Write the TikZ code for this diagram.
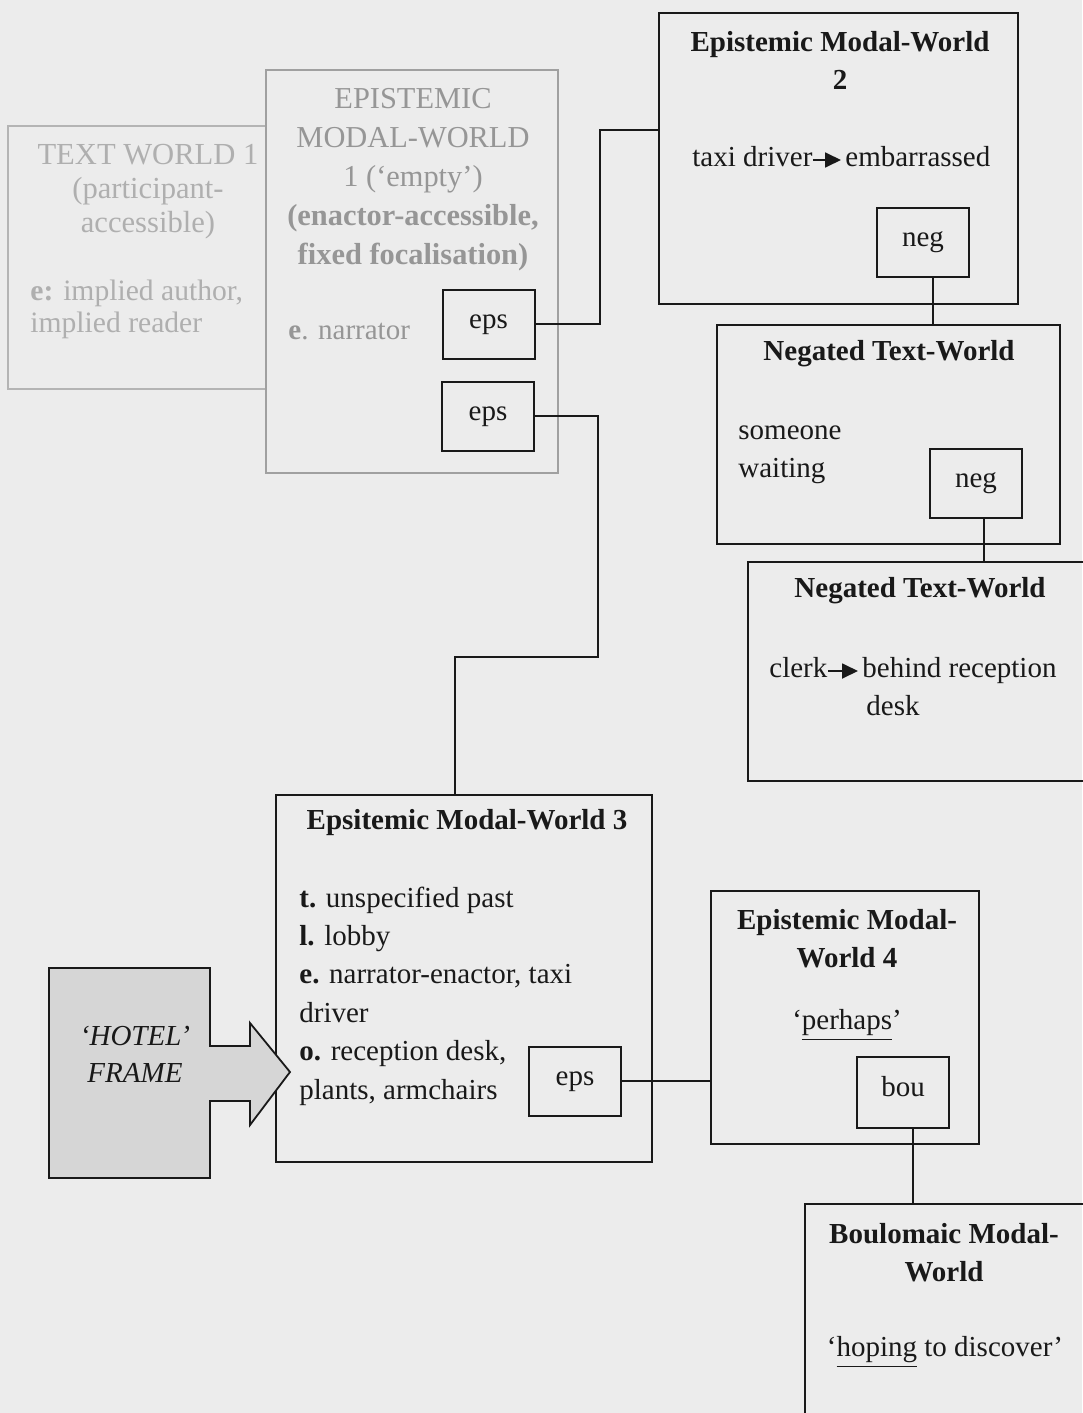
\documentclass[tikz,border=0pt]{standalone}
\usepackage{fontspec}
\setmainfont{Liberation Serif}
\usetikzlibrary{fit,arrows.meta}
\definecolor{paper}{RGB}{236,236,236}
\definecolor{fadeline}{RGB}{160,160,160}
\definecolor{fadetext}{RGB}{150,150,150}
\definecolor{faintline}{RGB}{180,180,180}
\definecolor{fainttext}{RGB}{175,175,175}
\definecolor{framefill}{RGB}{214,214,214}
\definecolor{ink}{RGB}{25,25,25}
\newcommand\mainsize{\fontsize{14.5}{19}\selectfont}

\begin{document}
\begin{tikzpicture}[x=0.5pt,y=-0.5pt,
  world/.style={draw=ink, line width=1pt, inner sep=0pt},
  ghost/.style={draw=fadeline, line width=0.7pt, inner sep=0pt},
  faint/.style={draw=faintline, line width=0.7pt, inner sep=0pt},
  tag/.style={draw=ink, line width=1pt, inner sep=0pt, font=\mainsize, text=ink,
    minimum width=46pt, minimum height=34.5pt, text height=7pt, text depth=3pt},
  txt/.style={inner sep=0pt, font=\mainsize, text=ink},
  title/.style={txt, font=\mainsize\bfseries, align=center},
  link/.style={draw=ink, line width=1pt},
  pointer/.style={draw=ink, line width=0.9pt, -{Triangle[length=8pt,width=7.5pt]}}
]
% page
\useasboundingbox (0,0) rectangle (1082,1413);
\fill[paper] (0,0) rectangle (1082,1413);

% world boxes
\node[faint, fit={(8,126) (266,389)}] (tw1) {};
\node[ghost, fit={(266,70) (558,473)}] (emw1) {};
\node[world, fit={(659,13) (1018,304)}] (emw2) {};
\node[world, fit={(717,325) (1060,544)}] (ntw1) {};
\node[world, fit={(748,562) (1110,781)}] (ntw2) {};
\node[world, fit={(276,795) (652,1162)}] (emw3) {};
\node[world, fit={(711,891) (979,1144)}] (emw4) {};
\node[world, fit={(805,1204) (1110,1440)}] (bmw) {};

% switch tags
\node[tag] (eps1) at (488.5,324) {eps};
\node[tag] (eps2) at (488,416) {eps};
\node[tag] (neg1) at (923,242.5) {neg};
\node[tag] (neg2) at (976,483.5) {neg};
\node[tag] (eps3) at (575,1081) {eps};
\node[tag, minimum height=35.5pt] (bou) at (903,1092.5) {bou};

% connectors
\coordinate (j1) at (600,130);
\draw[link] (eps1.east) -| (j1) -- (j1 -| emw2.west);
\coordinate (j2) at (598,657);
\coordinate (j3) at (455,657);
\draw[link] (eps2.east) -| (j2) -- (j3) -- (j3 |- emw3.north);
\coordinate (n1) at ([xshift=5pt]neg1.south);
\draw[link] (n1) -- (n1 |- ntw1.north);
\coordinate (n2) at ([xshift=4pt]neg2.south);
\draw[link] (n2) -- (n2 |- ntw2.north);
\coordinate (b1) at ([xshift=5pt]bou.south);
\draw[link] (b1) -- (b1 |- bmw.north);
\draw[link] (eps3.east) -- (eps3.east -| emw4.west);

% hotel frame with its block arrow
\draw[draw=ink, fill=framefill, line width=0.9pt]
  (49,968) -- (210,968) -- (210,1046) -- (250,1046) -- (250,1023)
  -- (290,1072) -- (250,1125) -- (250,1101) -- (210,1101)
  -- (210,1178) -- (49,1178) -- cycle;
\node[txt, align=center, font=\fontsize{14.5}{18.5}\selectfont\itshape] (hotel) at (135,1054) {‘HOTEL’\\FRAME};

% text world 1
\node[txt, text=fainttext, align=center, font=\fontsize{15.3}{17}\selectfont] (tw1title) at (148,192) {TEXT WORLD 1\\(participant-\\accessible)};
\node[txt, text=fainttext, align=left, anchor=west, font=\fontsize{14.8}{16}\selectfont] (tw1e) at (30,309) {\textbf{e:} implied author,\\implied reader};

% epistemic modal-world 1
\node[txt, text=fadetext, align=center, font=\fontsize{15.2}{19.5}\selectfont] (emw1title) at (413,180) {EPISTEMIC\\MODAL-WORLD\\1 (‘empty’)\\\textbf{(enactor-accessible,}\\\textbf{fixed focalisation)}};
\node[txt, text=fadetext, anchor=west] (emw1e) at (288,332) {\textbf{e}. narrator};

% epistemic modal-world 2
\node[title] (emw2title) at (840,60) {Epistemic Modal-World\\2};
\node[txt, anchor=base west] (taxi) at (692,166) {taxi driver};
\node[txt, anchor=base west] (emb) at (845,166) {embarrassed};
\draw[pointer] ([yshift=3pt]taxi.base east) -- ([xshift=-2pt,yshift=3pt]emb.base west);

% negated text-world 1
\node[title] (ntw1title) at (889,354) {Negated Text-World};
\node[txt, align=left, anchor=west] (someone) at (738,455) {someone\\waiting};

% negated text-world 2
\node[title] (ntw2title) at (920,591) {Negated Text-World};
\node[txt, anchor=base west] (clerk) at (769,677) {clerk};
\node[txt, anchor=base west] (behind) at (862,677) {behind reception};
\node[txt, anchor=base west] (desk) at (866,715) {desk};
\draw[pointer] ([yshift=3pt]clerk.base east) -- ([xshift=-2pt,yshift=3pt]behind.base west);

% epistemic modal-world 3
\node[title] (emw3title) at (467,823) {Epsitemic Modal-World 3};
\node[txt, align=left, anchor=west, font=\fontsize{14.5}{19.2}\selectfont] (emw3body) at (299,996)
  {\textbf{t.} unspecified past\\\textbf{l.} lobby\\\textbf{e.} narrator-enactor, taxi\\driver\\\textbf{o.} reception desk,\\plants, armchairs};

% epistemic modal-world 4
\node[title] (emw4title) at (847,939) {Epistemic Modal-\\World 4};
\node[txt] (perhaps) at (847,1025) {‘\underline{perhaps}’};

% boulomaic modal-world
\node[title] (bmwtitle) at (944,1253) {Boulomaic Modal-\\World};
\node[txt] (hoping) at (945,1352) {‘\underline{hoping} to discover’};
\end{tikzpicture}
\end{document}
